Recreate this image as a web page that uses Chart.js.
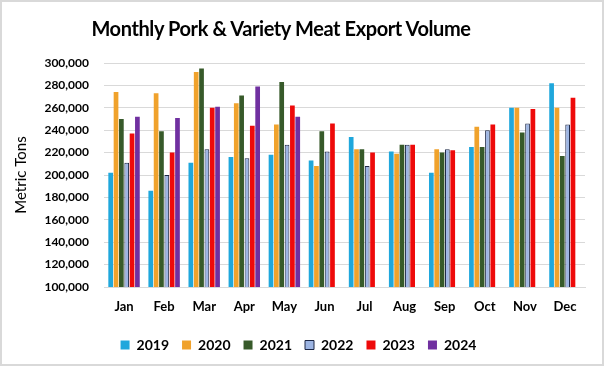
<!DOCTYPE html>
<html>
<head>
<meta charset="utf-8">
<script src="https://cdn.jsdelivr.net/npm/chart.js@4"></script>
<style>
  body { margin: 0; background: #fff; }
  #wrap { position: relative; width: 604px; height: 366px; }
  #wrap canvas { position: absolute; left: 0; top: 0; }
  #frame { position: absolute; left: 0; top: 0; width: 604px; height: 366px;
           box-sizing: border-box; border: 2px solid #d9d9d9; pointer-events: none; }
  #title { position: absolute; left: 0; width: 562px; top: 16px; text-align: center;
           font: bold 20px Lato, sans-serif; letter-spacing: -0.4px; color: #000; }
</style>
</head>
<body>
<div id="wrap">
  <canvas id="chart" width="604" height="366"></canvas>
  <div id="title">Monthly Pork &amp; Variety Meat Export Volume</div>
  <div id="frame"></div>
</div>
<script>
// months on the x axis
const months = ['Jan', 'Feb', 'Mar', 'Apr', 'May', 'Jun', 'Jul', 'Aug', 'Sep', 'Oct', 'Nov', 'Dec'];

// export volume, metric tons
const v2019 = [202000, 186000, 211000, 216000, 218000, 213000, 234000, 221000, 202000, 225000, 260000, 282000];
const v2020 = [274000, 273000, 292000, 264000, 245000, 208000, 223000, 219000, 223000, 243000, 260000, 260000];
const v2021 = [250000, 239000, 295000, 271000, 283000, 239000, 223000, 227000, 220000, 225000, 238000, 217000];
const v2022 = [211000, 200000, 223000, 215000, 227000, 221000, 208000, 227000, 223000, 240000, 246000, 245000];
const v2023 = [237000, 220000, 260000, 244000, 262000, 246000, 220000, 227000, 222000, 245000, 259000, 269000];
const v2024 = [252000, 251000, 261000, 279000, 252000, null, null, null, null, null, null, null];

// y axis range
const yMin = 100000;
const yMax = 300000;
const yStep = 20000;

const font = 'Lato, sans-serif';

function bars(label, data, color, border) {
    return {
        label: label,
        data: data,
        backgroundColor: color,
        borderColor: border || color,
        borderWidth: border ? 1 : 0,
        categoryPercentage: 0.8,
        barPercentage: 0.88
    };
}

window.onload = function() {
    const ctx = document.getElementById('chart').getContext('2d');
    new Chart(ctx, {
        type: 'bar',
        data: {
            labels: months,
            datasets: [
                bars('2019', v2019, '#1fa7dc'),
                bars('2020', v2020, '#f0a22c'),
                bars('2021', v2021, '#375a2a'),
                bars('2022', v2022, '#9db5e3', '#1c2745'),
                bars('2023', v2023, '#ee0a0a'),
                bars('2024', v2024, '#7030a0')
            ]
        },
        options: {
            responsive: false,
            animation: false,
            layout: { padding: { top: 63, left: 12, right: 19, bottom: 4 } },
            plugins: {
                title: { display: false },
                tooltip: { enabled: false },
                legend: {
                    position: 'bottom',
                    labels: {
                        boxWidth: 9,
                        boxHeight: 9,
                        padding: 13,
                        color: '#000',
                        font: { family: font, size: 14, weight: 'bold' }
                    }
                }
            },
            scales: {
                x: {
                    grid: { display: false },
                    border: { color: '#d9d9d9' },
                    ticks: { color: '#000', padding: 4, font: { family: font, size: 13, weight: 'bold' } },
                    afterFit: function(scale) { scale.height = 38; }
                },
                y: {
                    min: yMin,
                    max: yMax,
                    grid: { color: '#d9d9d9', drawTicks: false },
                    border: { display: false },
                    ticks: {
                        stepSize: yStep,
                        color: '#000',
                        padding: 15,
                        font: { family: font, size: 12, weight: 'bold' },
                        callback: function(v) { return v.toLocaleString('en-US'); }
                    },
                    title: {
                        display: true,
                        text: 'Metric Tons',
                        color: '#000',
                        padding: { top: 0, bottom: 6 },
                        font: { family: font, size: 15 }
                    },
                    afterFit: function(scale) { scale.width = 92; }
                }
            }
        }
    });
};
</script>
</body>
</html>
